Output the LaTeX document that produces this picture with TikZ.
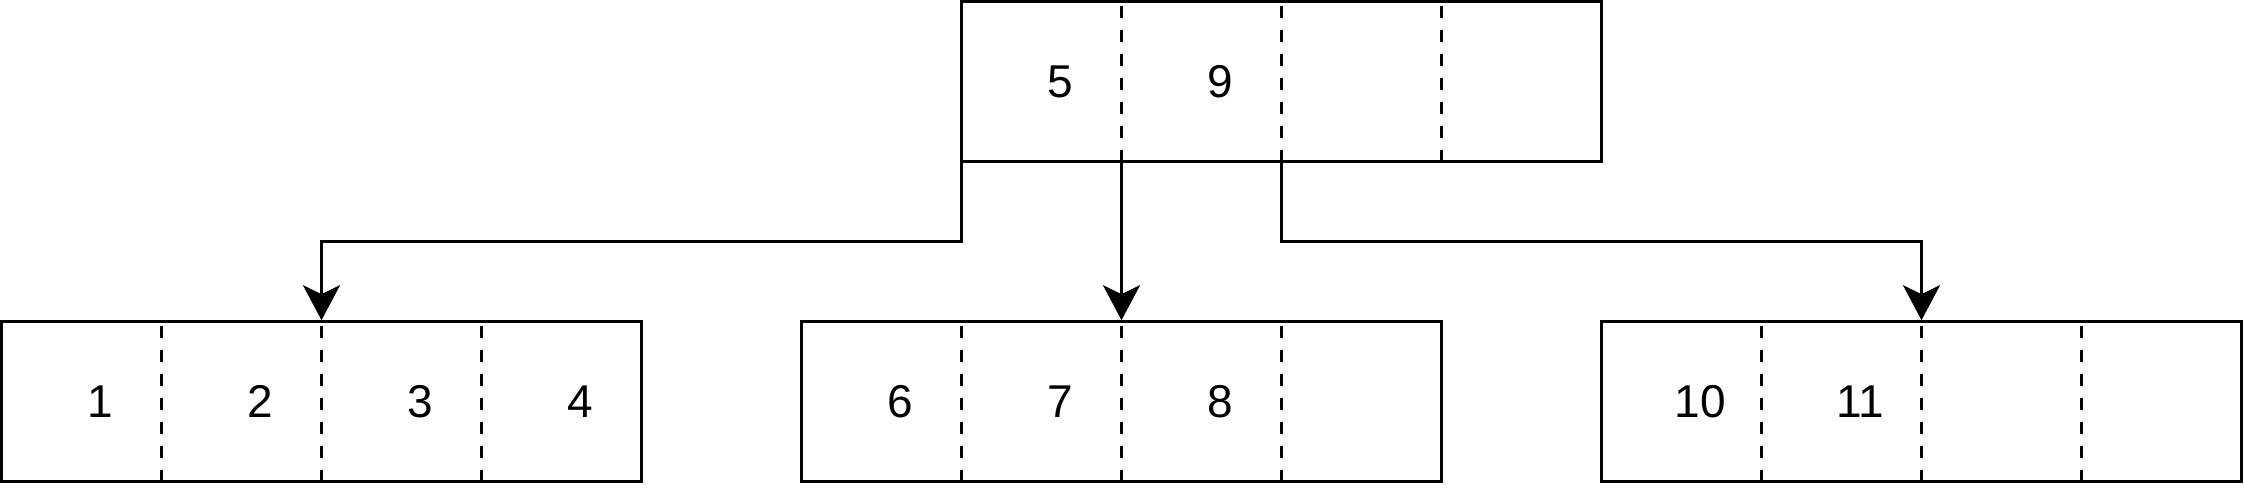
\documentclass[tikz,border=0pt]{standalone}
\usepackage{fontspec}
\newfontfamily\keyfont{Liberation Sans}
\usetikzlibrary{arrows.meta,calc}
\tikzset{
  keybox/.style={draw, rectangle, minimum width=640pt, minimum height=160pt, outer sep=0pt, inner sep=0pt, line width=3.3pt},
  sepline/.style={line width=3.3pt, dash pattern=on 12pt off 12pt, dash phase=19.5pt},
  keytext/.style={inner sep=0pt, font={\keyfont\fontsize{46}{46}\selectfont}},
  link/.style={line width=3.3pt, -{Stealth[length=35pt,width=37pt,inset=9pt]}, shorten >=1.5pt}
}
\begin{document}
\begin{tikzpicture}[x=1pt,y=-1pt]
\useasboundingbox (0,0) rectangle (2244,488);
\node[keybox] (root) at (1281.5,81.5) {};
\node[keybox] (b1) at (321.5,401.7) {};
\node[keybox] (b2) at (1121.5,401.7) {};
\node[keybox] (b3) at (1921.5,401.7) {};
\foreach \b in {root,b1,b2,b3}{
  \foreach \f in {0.25,0.5,0.75}{
    \draw[sepline] ($(\b.north west)!\f!(\b.north east)$) -- ($(\b.south west)!\f!(\b.south east)$);
  }
}
% keys
\node[keytext] (k5) at ($(root.west)+(99,0)$) {5};
\node[keytext] (k9) at ($(root.west)+(259,0)$) {9};
\node[keytext] (k1) at ($(b1.west)+(99,0)$) {1};
\node[keytext] (k2) at ($(b1.west)+(259,0)$) {2};
\node[keytext] (k3) at ($(b1.west)+(419,0)$) {3};
\node[keytext] (k4) at ($(b1.west)+(579,0)$) {4};
\node[keytext] (k6) at ($(b2.west)+(99,0)$) {6};
\node[keytext] (k7) at ($(b2.west)+(259,0)$) {7};
\node[keytext] (k8) at ($(b2.west)+(419,0)$) {8};
\node[keytext] (k10) at ($(b3.west)+(99,0)$) {10};
\node[keytext] (k11) at ($(b3.west)+(259,0)$) {11};
% pointers
\coordinate (p0) at (root.south west);
\coordinate (p1) at ($(root.south west)!0.25!(root.south east)$);
\coordinate (p2) at ($(root.south west)!0.5!(root.south east)$);
\coordinate (c1) at (b1.north);
\coordinate (c2) at (b2.north);
\coordinate (c3) at ($(b3.north west)!0.5!(b3.north east)$);
\draw[link] (p0) -- ++(0,80.1) -| (c1);
\draw[link] (p1) -- (c2);
\draw[link] (p2) -- ++(0,80.1) -| (c3);
\end{tikzpicture}
\end{document}
